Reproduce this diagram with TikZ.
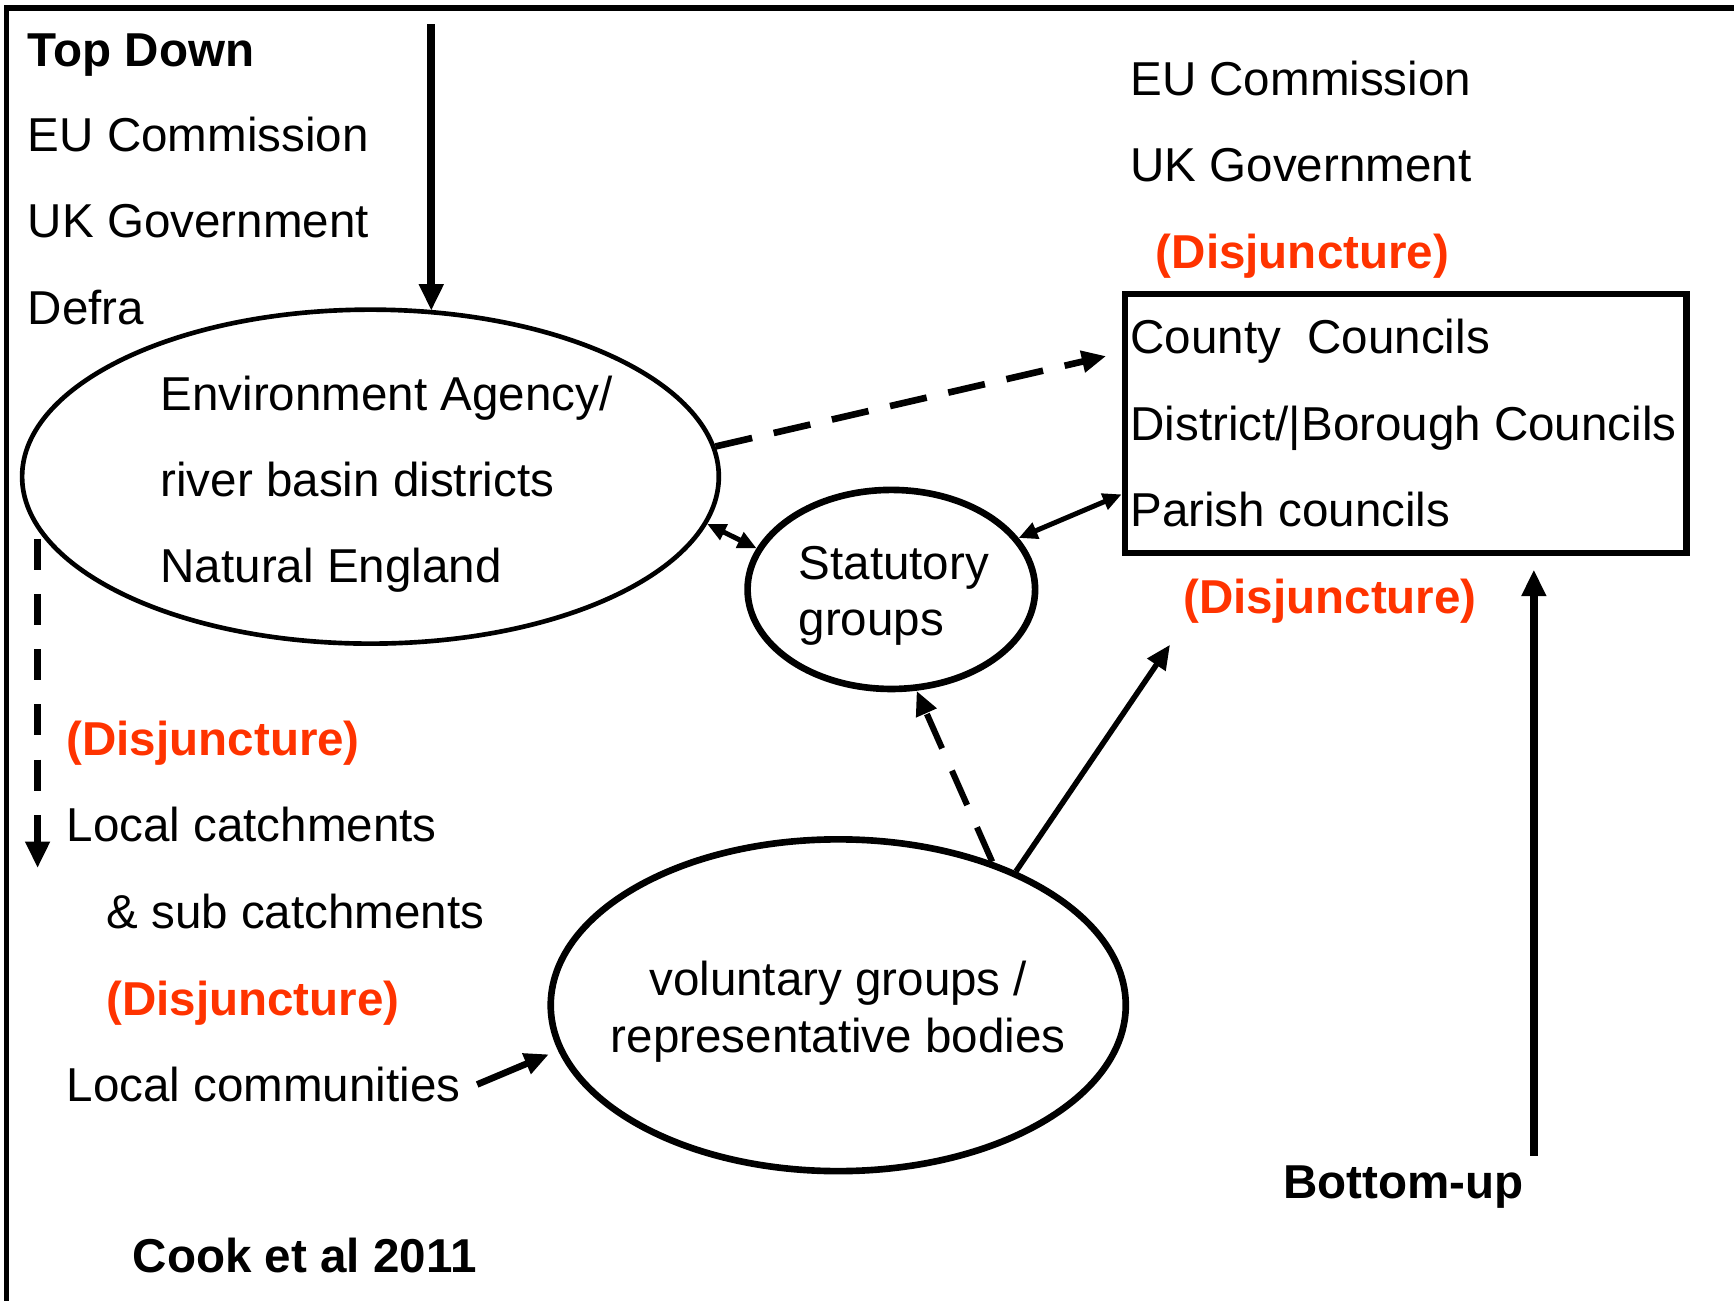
\documentclass[tikz,border=0pt]{standalone}
\usepackage{fontspec}
\setmainfont{Liberation Sans}
\usetikzlibrary{arrows.meta,shapes.geometric,calc}
\definecolor{disj}{RGB}{255,51,0}
\begin{document}
\begin{tikzpicture}[x=1pt,y=-1pt,
  txt/.style={anchor=base west,inner sep=0pt,font=\fontsize{43}{50}\selectfont},
  btxt/.style={anchor=base west,inner sep=0pt,font=\fontsize{43}{50}\selectfont\bfseries},
  rtxt/.style={btxt,text=disj},
  oval/.style={draw,ellipse,inner sep=0pt,line width=#1},
  bigtip/.style={-{Triangle[length=24pt,width=21pt]}},
  midtip/.style={-{Triangle[length=22pt,width=19pt]}},
  smalltip/.style={{Triangle[length=17pt,width=15pt]}-{Triangle[length=17pt,width=15pt]}},
  dashline/.style={dash pattern=on 34pt off 20pt}
]
\useasboundingbox (0,0) rectangle (1568,1176);

% frame
\draw[line width=5pt] (6,1180) -- (6,7) -- (1572,7);

% top-left list
\node[btxt] (topdown) at (25,60) {Top Down};
\node[txt] (eu1) at (25,137) {EU Commission};
\node[txt] (uk1) at (25,215) {UK Government};
\node[txt] (defra) at (25,293) {Defra};

% Environment Agency ellipse
\node[oval=4.2pt,minimum width=630pt,minimum height=302pt] (ea) at (335,431) {};
\node[txt] (ea1) at (145,371) {Environment Agency/};
\node[txt] (ea2) at (145,449) {river basin districts};
\node[txt] (ea3) at (145,527) {Natural England};

% right column
\node[txt] (eu2) at (1022,86) {EU Commission};
\node[txt] (uk2) at (1022,164) {UK Government};
\node[rtxt] (dj1) at (1045,243) {(Disjuncture)};
\node[draw,line width=5.5pt,rectangle,minimum width=508pt,minimum height=234pt,inner sep=0pt] (box) at (1271,383) {};
\node[txt] (cc) at (1022,320) {County\ \ Councils};
\node[txt] (dc) at (1022,398) {District/|Borough Councils};
\node[txt] (pc) at (1022,476) {Parish councils};
\node[rtxt] (dj2) at (1070,555) {(Disjuncture)};

% statutory groups
\node[oval=6pt,minimum width=260pt,minimum height=180pt] (stat) at (806,533) {};
\node[txt] (st1) at (722,524) {Statutory};
\node[txt] (st2) at (722,575) {groups};

% voluntary groups
\node[oval=6pt,minimum width=520pt,minimum height=300pt] (vol) at (758,909) {};
\node[txt,anchor=base] (vg1) at (758,900) {voluntary groups /};
\node[txt,anchor=base] (vg2) at (758,952) {representative bodies};

% lower-left list
\node[rtxt] (dj3) at (60,683) {(Disjuncture)};
\node[txt] (lc) at (60,761) {Local catchments};
\node[txt] (sc) at (96,840) {\& sub catchments};
\node[rtxt] (dj4) at (96,918) {(Disjuncture)};
\node[txt] (lcom) at (60,996) {Local communities};

% captions
\node[btxt] (bu) at (1160,1084) {Bottom-up};
\node[btxt] (cook) at (120,1151) {Cook et al 2011};

% free ends
\coordinate (tdtop) at (390,22);
\coordinate (tdend) at (390,281);
\coordinate (lddtop) at (34,487);
\coordinate (lddend) at (34,785);
\coordinate (butop) at (1387,515);
\coordinate (bubot) at (1387,1045);
\coordinate (diagend) at (1058,583);

% connectors
\draw[bigtip,line width=7pt] (tdtop) -- (tdend);
\draw[bigtip,line width=6pt,dash pattern=on 28pt off 22pt] (lddtop) -- (lddend);
\draw[bigtip,line width=7pt] (bubot) -- (butop);
\draw[midtip,line width=6pt,dashline] (ea.5) -- ([xshift=-14pt,yshift=61pt]box.west);
\draw[smalltip,line width=4.5pt] (ea.-8) -- (stat.163);
\draw[smalltip,line width=4.5pt] (stat.22) -- ([yshift=-64pt]box.west);
\draw[midtip,line width=5.5pt,dash pattern=on 34pt off 22pt] (vol.43) -- (stat.-76);
\draw[midtip,line width=5pt] (vol.37) -- (diagend);
\draw[midtip,line width=6pt] ([xshift=15pt]lcom.east) -- ([xshift=-10pt]vol.190);
\end{tikzpicture}
\end{document}
